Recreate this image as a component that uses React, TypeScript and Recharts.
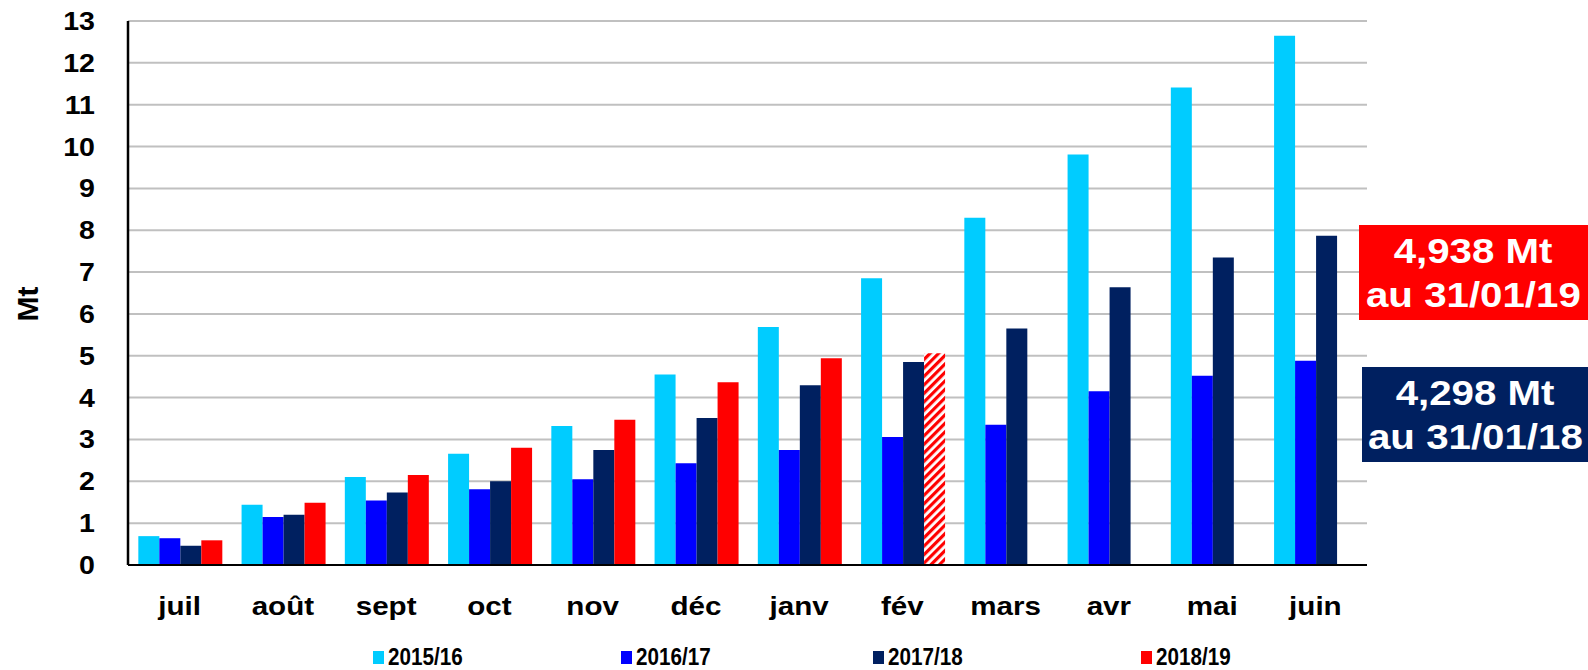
import React from "react";
import { BarChart, Bar, XAxis, YAxis, CartesianGrid, Cell } from "recharts";

const months = ["juil", "août", "sept", "oct", "nov", "déc", "janv", "fév", "mars", "avr", "mai", "juin"];
const s1516 = [0.69, 1.44, 2.1, 2.66, 3.32, 4.55, 5.69, 6.85, 8.3, 9.81, 11.41, 12.65];
const s1617 = [0.64, 1.15, 1.54, 1.81, 2.05, 2.43, 2.75, 3.06, 3.35, 4.15, 4.52, 4.88];
const s1718 = [0.46, 1.2, 1.73, 2.0, 2.75, 3.51, 4.298, 4.85, 5.65, 6.64, 7.35, 7.87];
const s1819 = [0.59, 1.49, 2.15, 2.8, 3.47, 4.37, 4.938, 5.06, null, null, null, null];
const estimatedIndex = 7; // fév 2018/19 drawn hatched (estimate)
const yTicks = [0, 1, 2, 3, 4, 5, 6, 7, 8, 9, 10, 11, 12, 13];
const seriesNames = ["2015/16", "2016/17", "2017/18", "2018/19"];
const seriesColors = ["#00CCFF", "#0000FF", "#002060", "#FF0000"];
const yLabel = "Mt";
const note2019 = ["4,938 Mt", "au 31/01/19"];
const note2018 = ["4,298 Mt", "au 31/01/18"];

const data = months.map((m, i) => ({
  month: m,
  a: s1516[i],
  b: s1617[i],
  c: s1718[i],
  d: s1819[i],
}));

const FONT = "'Liberation Sans', Arial, sans-serif";

const YTick = (props: any) => {
  const { x, y, payload } = props;
  return (
    <g transform={`translate(${x - 25},${y + 9}) scale(1.12,1)`}>
      <text x={0} y={0} textAnchor="end" fontFamily={FONT} fontWeight="bold" fontSize={25.5} fill="#000">
        {payload.value}
      </text>
    </g>
  );
};

const XTick = (props: any) => {
  const { x, y, payload } = props;
  return (
    <g transform={`translate(${x},${y + 42}) scale(1.16,1)`}>
      <text x={0} y={0} textAnchor="middle" fontFamily={FONT} fontWeight="bold" fontSize={25.5} fill="#000">
        {payload.value}
      </text>
    </g>
  );
};

const legendX = [373, 621, 873, 1141];

export default function App() {
  const keys = ["a", "b", "c", "d"];
  return (
    <div style={{ position: "absolute", left: 0, top: 0, width: 1588, height: 670, background: "#fff", overflow: "hidden" }}>
      <svg width={0} height={0} style={{ position: "absolute" }}>
        <defs>
          <pattern id="hatchRed" patternUnits="userSpaceOnUse" width={6} height={6} patternTransform="rotate(45)">
            <rect x={0} y={0} width={6} height={6} fill="#fff" />
            <rect x={0} y={0} width={3.2} height={6} fill="#FF0000" />
          </pattern>
        </defs>
      </svg>
      <BarChart
        width={1588}
        height={670}
        data={data}
        margin={{ top: 21, right: 221, bottom: 45, left: 0 }}
        barCategoryGap="10%"
        barGap={0}
      >
        <CartesianGrid vertical={false} stroke="#C0C0C0" strokeWidth={2} />
        <XAxis
          dataKey="month"
          axisLine={{ stroke: "#000", strokeWidth: 2 }}
          tickLine={false}
          height={60}
          tick={<XTick />}
          interval={0}
        />
        <YAxis
          domain={[0, 13]}
          ticks={yTicks}
          width={128}
          axisLine={{ stroke: "#000", strokeWidth: 2.5 }}
          tickLine={false}
          tick={<YTick />}
          interval={0}
        />
        {keys.map((k, si) => (
          <Bar key={k} dataKey={k} name={seriesNames[si]} fill={seriesColors[si]} isAnimationActive={false}>
            {si === 3
              ? data.map((_, i) => (
                  <Cell key={i} fill={i === estimatedIndex ? "url(#hatchRed)" : seriesColors[si]} />
                ))
              : null}
          </Bar>
        ))}
      </BarChart>
      <div
        style={{
          position: "absolute",
          left: 28,
          top: 304,
          transform: "translate(-50%,-50%) rotate(-90deg)",
          fontFamily: FONT,
          fontWeight: "bold",
          fontSize: 30,
          color: "#000",
          whiteSpace: "nowrap",
        }}
      >
        {yLabel}
      </div>
      {seriesNames.map((n, i) => (
        <div key={n} style={{ position: "absolute", left: legendX[i], top: 643, height: 28, display: "flex", alignItems: "center" }}>
          <div style={{ width: 11, height: 13, background: seriesColors[i], marginRight: 4 }} />
          <div
            style={{
              fontFamily: FONT,
              fontWeight: "bold",
              fontSize: 24,
              color: "#000",
              whiteSpace: "nowrap",
              transform: "scaleX(0.86)",
              transformOrigin: "left center",
            }}
          >
            {n}
          </div>
        </div>
      ))}
      {[
        { lines: note2019, bg: "#FF0000", left: 1359, top: 225 },
        { lines: note2018, bg: "#002060", left: 1362, top: 367 },
      ].map((b, i) => (
        <div
          key={i}
          style={{
            position: "absolute",
            left: b.left,
            top: b.top,
            width: 1588 - b.left,
            height: 95,
            background: b.bg,
            display: "flex",
            flexDirection: "column",
            alignItems: "center",
            justifyContent: "center",
          }}
        >
          {b.lines.map((l) => (
            <div
              key={l}
              style={{
                fontFamily: FONT,
                fontWeight: "bold",
                fontSize: 35,
                lineHeight: "44px",
                color: "#fff",
                whiteSpace: "nowrap",
                transform: "scaleX(1.15)",
              }}
            >
              {l}
            </div>
          ))}
        </div>
      ))}
    </div>
  );
}
